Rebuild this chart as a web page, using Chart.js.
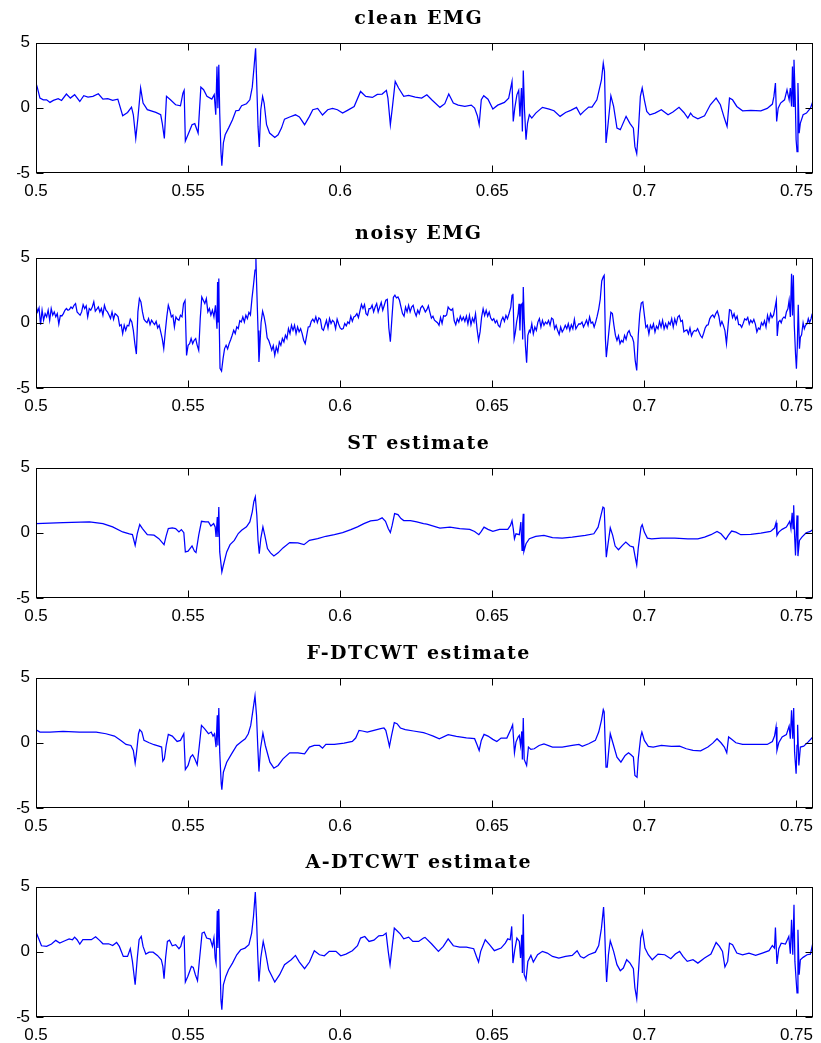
<!DOCTYPE html>
<html>
<head>
<meta charset="utf-8">
<script src="https://cdn.jsdelivr.net/npm/chart.js@4.4.1/dist/chart.umd.min.js"></script>
<style>
  html, body { margin: 0; padding: 0; background: #fff; overflow: hidden; }
  .panel { position: absolute; left: 0; width: 821px; height: 200px; }
</style>
</head>
<body>
<div class="panel" style="top:0px"><canvas id="c0"></canvas></div>
<div class="panel" style="top:215px"><canvas id="c1"></canvas></div>
<div class="panel" style="top:425px"><canvas id="c2"></canvas></div>
<div class="panel" style="top:635px"><canvas id="c3"></canvas></div>
<div class="panel" style="top:844px"><canvas id="c4"></canvas></div>
<script>
// axis ticks shared by every panel
const xTicks = [0.5, 0.55, 0.6, 0.65, 0.7, 0.75];
const yTicks = [-5, 0, 5];
const xMin = 0.5, xMax = 0.7555;

const titles = ["clean EMG", "noisy EMG", "ST estimate", "F-DTCWT estimate", "A-DTCWT estimate"];

// [time (s), amplitude] samples
const cleanEMG = [
  [0.5000,1.89],[0.5004,1.58],[0.5013,0.74],[0.5024,0.61],[0.5035,0.61],[0.5046,0.41],[0.5057,0.56],[0.5073,0.69],[0.5084,0.56],[0.5100,1.05],
  [0.5113,0.74],[0.5127,1.00],[0.5144,0.48],[0.5157,0.92],[0.5171,0.82],[0.5187,0.87],[0.5205,1.07],[0.5220,0.66],[0.5236,0.69],[0.5252,0.56],
  [0.5269,0.66],[0.5285,-0.61],[0.5301,-0.36],[0.5314,0.05],[0.5320,-0.54],[0.5328,-2.35],[0.5335,-0.79],[0.5344,1.51],[0.5352,0.36],[0.5366,-0.15],
  [0.5394,-0.36],[0.5410,-0.54],[0.5415,-1.17],[0.5422,-2.35],[0.5429,0.87],[0.5442,0.61],[0.5459,0.23],[0.5475,0.15],[0.5483,1.12],[0.5487,1.33],
  [0.5491,-2.55],[0.5502,-1.94],[0.5513,-1.30],[0.5522,-1.22],[0.5533,-1.94],[0.5542,1.58],[0.5551,1.38],[0.5562,0.87],[0.5578,0.66],[0.5586,1.00],
  [0.5591,-0.54],[0.5595,3.16],[0.5598,-0.03],[0.5601,3.29],[0.5604,-0.41],[0.5608,-3.37],[0.5611,-4.44],[0.5616,-2.70],[0.5622,-2.07],[0.5633,-1.56],
  [0.5646,-0.92],[0.5657,-0.23],[0.5667,-0.20],[0.5676,0.15],[0.5692,0.31],[0.5703,0.61],[0.5711,1.58],[0.5717,3.16],[0.5722,4.56],[0.5726,1.63],
  [0.5730,-1.43],[0.5734,-3.01],[0.5739,-0.15],[0.5745,0.87],[0.5750,0.36],[0.5758,-1.30],[0.5768,-1.94],[0.5785,-2.27],[0.5796,-2.07],[0.5807,-1.56],
  [0.5817,-0.87],[0.5834,-0.71],[0.5853,-0.54],[0.5866,-0.71],[0.5883,-1.30],[0.5899,-0.66],[0.5910,-0.15],[0.5926,-0.05],[0.5942,-0.56],[0.5959,-0.15],
  [0.5975,-0.05],[0.5991,-0.15],[0.6008,-0.41],[0.6024,-0.20],[0.6046,0.10],[0.6067,1.25],[0.6084,0.87],[0.6106,0.79],[0.6122,1.02],[0.6138,1.05],
  [0.6152,1.33],[0.6157,0.74],[0.6165,-1.30],[0.6172,0.10],[0.6181,2.02],[0.6192,1.51],[0.6209,0.87],[0.6225,0.94],[0.6247,0.82],[0.6268,0.74],
  [0.6285,1.00],[0.6301,0.61],[0.6328,0.03],[0.6344,0.31],[0.6357,1.05],[0.6372,0.36],[0.6388,0.20],[0.6410,0.10],[0.6431,0.20],[0.6442,-0.03],
  [0.6451,-0.61],[0.6457,-1.30],[0.6464,0.61],[0.6472,0.92],[0.6486,0.66],[0.6502,-0.10],[0.6518,0.20],[0.6540,0.41],[0.6554,0.74],[0.6565,2.02],
  [0.6569,-1.05],[0.6574,-0.03],[0.6581,0.99],[0.6587,1.33],[0.6591,-0.66],[0.6596,1.51],[0.6599,-1.81],[0.6602,2.86],[0.6606,-0.15],[0.6611,-2.45],
  [0.6616,-1.17],[0.6622,-0.54],[0.6630,-0.79],[0.6643,-0.41],[0.6665,0.03],[0.6687,-0.10],[0.6703,-0.23],[0.6723,-0.66],[0.6741,-0.36],[0.6758,-0.20],
  [0.6777,0.03],[0.6790,-0.54],[0.6801,-0.28],[0.6817,0.05],[0.6828,0.05],[0.6844,0.61],[0.6859,2.14],[0.6865,3.42],[0.6869,2.78],[0.6874,-2.70],
  [0.6880,-1.43],[0.6890,0.92],[0.6899,0.10],[0.6910,-1.56],[0.6921,-1.68],[0.6940,-0.66],[0.6953,-1.22],[0.6964,-1.56],[0.6969,-2.98],[0.6975,-3.52],
  [0.6980,-1.94],[0.6987,0.87],[0.6993,1.51],[0.7000,0.61],[0.7008,-0.28],[0.7018,-0.54],[0.7035,-0.41],[0.7056,-0.15],[0.7078,-0.54],[0.7094,-0.33],
  [0.7114,0.03],[0.7130,-0.36],[0.7143,-0.79],[0.7152,-0.41],[0.7160,-0.66],[0.7176,-0.84],[0.7198,-0.61],[0.7217,0.23],[0.7236,0.74],[0.7250,0.23],
  [0.7263,-0.79],[0.7272,-1.43],[0.7280,0.74],[0.7290,0.61],[0.7304,0.10],[0.7323,-0.23],[0.7350,-0.20],[0.7383,-0.23],[0.7404,-0.05],[0.7421,0.28],
  [0.7426,0.87],[0.7431,1.89],[0.7435,-1.05],[0.7440,-0.03],[0.7448,0.36],[0.7461,0.61],[0.7469,1.38],[0.7476,0.61],[0.7480,1.51],[0.7484,0.10],
  [0.7487,3.16],[0.7490,0.10],[0.7492,3.67],[0.7496,0.87],[0.7499,-2.45],[0.7502,-3.37],[0.7505,1.89],[0.7509,-1.94],[0.7513,-1.17],[0.7522,-0.54],
  [0.7533,-0.41],[0.7546,-0.03],[0.7554,0.48]
];

const noisyEMG = [
  [0.5000,1.34],[0.5005,0.83],[0.5010,1.14],[0.5015,-0.14],[0.5020,0.96],[0.5025,0.19],[0.5030,0.70],[0.5035,0.45],[0.5040,0.96],[0.5045,0.19],
  [0.5050,1.09],[0.5055,0.58],[0.5060,0.83],[0.5065,0.45],[0.5070,0.70],[0.5075,-0.10],[0.5080,0.55],[0.5085,0.52],[0.5090,0.70],[0.5095,0.96],
  [0.5100,1.09],[0.5105,0.96],[0.5110,1.02],[0.5115,1.21],[0.5120,1.09],[0.5125,1.34],[0.5130,1.47],[0.5135,0.83],[0.5140,0.70],[0.5145,0.58],
  [0.5150,0.83],[0.5155,1.39],[0.5160,1.09],[0.5165,1.29],[0.5170,0.45],[0.5175,1.09],[0.5180,0.96],[0.5185,1.21],[0.5190,1.60],[0.5195,0.89],
  [0.5200,1.04],[0.5205,1.21],[0.5210,0.83],[0.5215,1.09],[0.5220,0.58],[0.5225,1.34],[0.5230,0.96],[0.5235,0.83],[0.5240,0.60],[0.5245,0.32],
  [0.5250,0.83],[0.5255,0.27],[0.5260,0.70],[0.5265,0.60],[0.5270,0.45],[0.5275,-0.24],[0.5280,-0.14],[0.5285,-0.83],[0.5290,-0.19],[0.5295,-0.58],
  [0.5300,-0.19],[0.5305,-0.24],[0.5310,0.27],[0.5315,0.06],[0.5320,-0.58],[0.5325,-1.60],[0.5330,-2.40],[0.5335,0.83],[0.5340,1.85],[0.5345,1.60],
  [0.5350,0.83],[0.5355,0.27],[0.5360,0.11],[0.5365,0.01],[0.5370,0.32],[0.5375,-0.14],[0.5380,0.19],[0.5385,0.01],[0.5390,-0.14],[0.5395,0.11],
  [0.5400,-0.40],[0.5405,-0.19],[0.5410,-0.70],[0.5415,-1.21],[0.5420,-1.98],[0.5425,-0.70],[0.5430,0.45],[0.5435,1.34],[0.5440,0.96],[0.5445,0.45],
  [0.5450,0.58],[0.5455,-0.32],[0.5460,0.45],[0.5465,0.27],[0.5470,0.19],[0.5475,0.58],[0.5480,0.45],[0.5485,1.47],[0.5490,1.70],[0.5495,-2.50],
  [0.5500,-1.73],[0.5505,-1.60],[0.5510,-1.21],[0.5515,-1.60],[0.5520,-1.34],[0.5525,-1.21],[0.5530,-1.73],[0.5535,-2.11],[0.5540,0.32],[0.5545,1.98],
  [0.5550,1.72],[0.5555,1.47],[0.5560,1.85],[0.5565,0.83],[0.5570,1.09],[0.5575,0.58],[0.5580,0.96],[0.5585,0.45],[0.5590,1.34],[0.5595,-0.45],
  [0.5597,3.13],[0.5599,0.06],[0.5601,3.39],[0.5603,-0.80],[0.5605,-3.50],[0.5610,-3.70],[0.5615,-2.75],[0.5620,-1.98],[0.5625,-1.73],[0.5630,-2.00],
  [0.5635,-1.60],[0.5640,-1.30],[0.5645,-0.96],[0.5650,-0.58],[0.5655,-0.83],[0.5660,-0.32],[0.5665,-0.45],[0.5670,0.16],[0.5675,0.06],[0.5680,0.45],
  [0.5685,0.06],[0.5690,0.58],[0.5695,0.32],
  [0.5700,0.80],[0.5705,0.60],[0.5710,1.85],[0.5715,2.88],[0.5720,4.03],[0.5723,4.95],[0.5725,3.20],[0.5730,-0.60],[0.5733,-3.00],[0.5735,-2.20],
  [0.5740,0.00],[0.5745,0.89],[0.5750,0.45],[0.5755,-0.19],[0.5760,-1.15],[0.5765,-1.35],[0.5770,-1.70],[0.5775,-2.10],[0.5780,-1.75],[0.5785,-2.49],
  [0.5790,-1.85],[0.5795,-2.24],
  [0.5800,-1.47],[0.5805,-1.73],[0.5810,-1.21],[0.5815,-1.47],[0.5820,-0.96],[0.5825,-1.21],[0.5830,-0.45],[0.5835,-0.83],[0.5840,-0.19],[0.5845,-0.58],
  [0.5850,-0.19],[0.5855,-0.83],[0.5860,-0.32],[0.5865,-0.70],[0.5870,-0.45],[0.5875,-0.83],[0.5880,-1.34],[0.5885,-1.60],[0.5890,-0.96],[0.5895,-0.32],
  [0.5900,-0.30],[0.5905,0.11],[0.5910,0.27],[0.5915,0.06],[0.5920,0.45],[0.5925,0.01],[0.5930,0.37],[0.5935,0.27],[0.5940,-0.45],[0.5945,-0.58],
  [0.5950,-0.19],[0.5955,0.19],[0.5960,-0.40],[0.5965,0.32],[0.5970,-0.06],[0.5975,0.19],[0.5980,0.06],[0.5985,-0.45],[0.5990,0.27],[0.5995,-0.10],
  [0.6000,-0.40],[0.6005,-0.50],[0.6010,-0.45],[0.6015,-0.06],[0.6020,-0.24],[0.6025,0.06],[0.6030,-0.06],[0.6035,0.50],[0.6040,0.11],[0.6045,0.45],
  [0.6050,0.52],[0.6055,0.70],[0.6060,0.40],[0.6065,0.90],[0.6070,1.40],[0.6075,1.09],[0.6080,1.39],[0.6085,0.70],[0.6090,0.58],[0.6095,1.09],
  [0.6100,1.09],[0.6105,1.34],[0.6110,0.83],[0.6115,1.21],[0.6120,1.47],[0.6125,0.83],[0.6130,1.21],[0.6135,1.55],[0.6140,0.96],[0.6145,1.34],
  [0.6150,1.73],[0.6155,1.80],[0.6160,-0.40],[0.6165,-1.45],[0.6170,0.30],[0.6175,1.95],[0.6180,2.11],[0.6185,1.90],[0.6190,1.98],[0.6195,1.72],
  [0.6200,1.20],[0.6205,0.70],[0.6210,0.50],[0.6215,1.20],[0.6220,0.83],[0.6225,1.34],[0.6230,0.83],[0.6235,1.20],[0.6240,1.34],[0.6245,0.83],
  [0.6250,0.52],[0.6255,0.96],[0.6260,0.70],[0.6265,1.15],[0.6270,1.30],[0.6275,1.10],[0.6280,0.83],
  [0.6285,1.00],[0.6290,1.30],[0.6295,0.80],[0.6300,0.36],[0.6305,0.50],[0.6310,0.20],[0.6315,0.10],[0.6320,0.00],[0.6325,-0.20],[0.6330,0.40],
  [0.6335,-0.05],[0.6340,0.55],[0.6345,0.50],[0.6350,0.60],[0.6355,1.20],[0.6360,1.05],[0.6365,0.95],[0.6370,1.08],[0.6375,0.15],[0.6380,-0.15],
  [0.6385,0.30],[0.6390,0.05],[0.6395,0.50],
  [0.6400,0.18],[0.6405,0.43],[0.6410,0.10],[0.6415,0.51],[0.6420,-0.08],[0.6425,0.56],[0.6430,-0.15],[0.6435,0.36],[0.6440,0.05],[0.6445,0.69],
  [0.6450,-0.46],[0.6455,-1.35],[0.6460,-0.70],[0.6465,0.43],[0.6470,1.07],[0.6475,0.56],[0.6480,0.95],[0.6485,0.51],[0.6490,0.82],[0.6495,0.36],
  [0.6500,0.18],[0.6505,0.31],[0.6510,0.00],[0.6515,0.18],[0.6520,-0.20],[0.6525,-0.33],[0.6530,0.18],[0.6535,0.43],[0.6540,0.10],[0.6545,0.56],
  [0.6550,0.31],[0.6555,0.69],
  [0.6561,1.20],[0.6565,2.10],[0.6568,2.23],[0.6572,-1.23],[0.6576,-0.72],[0.6580,0.05],[0.6585,0.69],[0.6588,1.46],[0.6591,-0.59],[0.6594,1.33],
  [0.6598,1.46],[0.6600,-1.28],[0.6602,2.74],[0.6605,0.31],[0.6609,-1.74],[0.6613,-3.07],[0.6617,-0.97],[0.6622,-0.59],
  [0.6625,-0.72],[0.6630,-0.08],[0.6635,-0.85],[0.6640,-0.33],[0.6645,-0.59],[0.6650,0.05],[0.6655,0.31],[0.6660,-0.33],[0.6665,0.18],[0.6670,-0.20],
  [0.6675,0.05],[0.6680,-0.08],[0.6685,0.18],[0.6690,-0.20],[0.6695,0.36],
  [0.6700,0.26],[0.6705,-0.46],[0.6710,-0.20],[0.6715,-0.60],[0.6720,-0.90],[0.6725,-0.33],[0.6730,-0.70],[0.6735,-0.50],[0.6740,-0.20],[0.6745,-0.46],
  [0.6750,-0.08],[0.6755,-0.59],[0.6760,-0.15],[0.6765,-0.46],[0.6770,0.26],[0.6775,-0.46],[0.6780,-0.25],[0.6785,-0.08],[0.6790,-0.10],[0.6795,0.05],
  [0.6800,-0.33],[0.6805,-0.08],[0.6810,0.20],[0.6815,-0.20],[0.6820,0.44],[0.6825,-0.03],[0.6830,0.05],[0.6835,-0.33],[0.6840,0.05],[0.6845,0.50],
  [0.6850,1.05],[0.6855,1.80],[0.6860,3.20],[0.6865,3.52],[0.6868,3.63],[0.6872,-1.23],[0.6875,-2.63],[0.6880,-1.50],[0.6885,-0.30],[0.6890,0.80],
  [0.6895,0.70],
  [0.6900,-0.20],[0.6905,-0.97],[0.6910,-1.35],[0.6915,-1.00],[0.6920,-1.60],[0.6925,-1.35],[0.6930,-1.48],[0.6935,-0.97],[0.6940,-1.28],[0.6945,-0.77],
  [0.6950,-0.60],[0.6955,-0.97],[0.6960,-1.10],[0.6965,-1.48],[0.6970,-2.90],[0.6975,-3.66],[0.6980,-1.00],[0.6985,0.69],[0.6990,1.50],[0.6995,1.60],
  [0.7000,0.60],[0.7005,-0.35],[0.7010,-0.20],[0.7015,-0.85],[0.7020,-0.20],[0.7025,-0.46],[0.7030,-0.08],[0.7035,-0.72],[0.7040,-0.26],[0.7045,-0.46],
  [0.7050,0.10],[0.7055,-0.33],[0.7060,0.18],[0.7065,-0.46],[0.7070,-0.08],[0.7075,-0.41],[0.7080,0.05],[0.7085,-0.15],[0.7090,0.31],[0.7095,-0.33],
  [0.7100,0.30],[0.7105,-0.10],[0.7110,0.44],[0.7115,0.56],[0.7120,0.10],[0.7125,0.18],[0.7130,-0.70],[0.7135,-0.60],[0.7140,-0.55],[0.7145,-0.85],
  [0.7150,-0.40],[0.7155,-1.00],[0.7160,-0.72],[0.7165,-0.59],[0.7170,-0.65],[0.7175,-0.45],[0.7180,-0.72],[0.7185,-1.00],[0.7190,-1.15],[0.7195,-0.80],
  [0.7200,-0.40],[0.7205,-0.20],[0.7210,-0.15],[0.7215,0.30],[0.7220,0.50],[0.7225,0.60],[0.7230,0.40],[0.7235,0.70],[0.7240,0.90],[0.7245,0.50],
  [0.7250,-0.20],[0.7255,0.10],[0.7260,-0.20],[0.7265,-0.60],[0.7270,-1.60],[0.7275,-0.30],[0.7280,1.00],[0.7285,0.95],[0.7290,0.40],[0.7295,0.69],
  [0.7300,0.26],[0.7305,0.50],[0.7310,-0.15],[0.7315,-0.15],[0.7320,-0.35],[0.7325,-0.05],[0.7330,0.30],[0.7335,0.20],[0.7340,0.40],[0.7345,-0.10],
  [0.7350,0.20],[0.7355,0.00],[0.7360,0.25],[0.7365,-0.10],[0.7370,-0.70],[0.7375,-0.40],[0.7380,-0.50],[0.7385,0.00],[0.7390,-0.20],[0.7395,0.15],
  [0.7400,-0.33],[0.7405,0.56],[0.7410,0.10],[0.7415,0.69],[0.7420,0.40],[0.7425,0.60],
  [0.7430,1.20],[0.7434,1.72],[0.7437,-1.02],[0.7441,0.05],[0.7446,0.18],[0.7450,0.00],[0.7454,0.31],[0.7459,0.44],[0.7463,0.36],[0.7467,0.82],
  [0.7472,1.07],[0.7476,1.72],[0.7480,0.44],[0.7484,3.76],[0.7487,0.56],[0.7490,3.63],[0.7493,-0.20],[0.7497,-2.38],[0.7500,-3.53],[0.7503,-1.74],
  [0.7506,1.38],[0.7510,-1.99],[0.7513,-1.10],[0.7517,-0.92],[0.7522,0.00],[0.7526,-0.46],[0.7530,-0.20],[0.7535,-0.08],[0.7539,0.31],[0.7543,0.00],
  [0.7548,0.31],[0.7552,0.69]
];

const stEstimate = [
  [0.5000,0.70],[0.5089,0.78],[0.5176,0.83],[0.5220,0.70],[0.5252,0.45],[0.5285,0.06],[0.5307,-0.09],[0.5317,-0.14],[0.5326,-0.96],[0.5333,-0.06],
  [0.5341,0.63],[0.5350,0.32],[0.5366,-0.14],[0.5388,-0.19],[0.5404,-0.45],[0.5421,-0.91],[0.5428,-0.24],[0.5435,0.32],[0.5448,0.37],[0.5459,0.32],
  [0.5470,0.06],[0.5478,0.24],[0.5486,0.01],[0.5491,-1.47],[0.5500,-1.41],[0.5513,-1.01],[0.5521,-1.41],[0.5526,-1.52],[0.5535,-0.19],[0.5544,0.88],
  [0.5557,0.83],[0.5567,0.83],[0.5575,0.52],[0.5584,0.70],[0.5589,0.45],[0.5592,-0.32],[0.5596,1.21],[0.5598,-0.32],[0.5601,1.98],[0.5604,-1.47],
  [0.5611,-3.00],[0.5616,-2.49],[0.5627,-1.47],[0.5638,-0.91],[0.5652,-0.58],[0.5665,-0.06],[0.5676,0.19],[0.5692,0.45],[0.5703,0.83],[0.5711,1.60],
  [0.5716,2.37],[0.5721,2.75],[0.5726,1.34],[0.5730,-0.58],[0.5734,-1.60],[0.5739,-0.45],[0.5746,0.45],[0.5752,-0.19],[0.5761,-1.21],[0.5771,-1.54],
  [0.5782,-1.78],[0.5796,-1.54],[0.5812,-1.16],[0.5834,-0.75],[0.5861,-0.78],[0.5881,-0.91],[0.5899,-0.58],[0.5926,-0.45],[0.5953,-0.27],[0.5981,-0.14],
  [0.6008,0.01],[0.6035,0.24],[0.6057,0.45],[0.6078,0.70],[0.6100,0.91],[0.6122,0.96],[0.6138,1.14],[0.6149,0.88],[0.6158,0.32],[0.6165,0.01],
  [0.6171,0.58],[0.6179,1.47],[0.6190,1.39],[0.6200,1.09],[0.6209,0.93],[0.6231,0.93],[0.6252,0.83],[0.6274,0.70],[0.6285,0.66],[0.6328,0.36],
  [0.6361,0.43],[0.6393,0.31],[0.6426,0.26],[0.6442,0.10],[0.6456,-0.15],[0.6464,0.10],[0.6473,0.43],[0.6486,0.26],[0.6502,0.10],[0.6524,0.26],
  [0.6551,0.26],[0.6560,0.56],[0.6565,0.92],[0.6569,0.31],[0.6573,-0.46],[0.6578,-0.08],[0.6589,-0.15],[0.6594,0.82],[0.6598,-1.36],[0.6600,0.69],
  [0.6602,1.46],[0.6604,-1.43],[0.6611,-0.84],[0.6622,-0.46],[0.6643,-0.28],[0.6670,-0.20],[0.6698,-0.38],[0.6730,-0.41],[0.6763,-0.33],[0.6806,-0.20],
  [0.6834,-0.08],[0.6848,0.43],[0.6856,1.20],[0.6864,1.97],[0.6868,1.89],[0.6872,-0.46],[0.6875,-1.87],[0.6880,-0.97],[0.6888,0.38],[0.6896,-0.20],
  [0.6904,-1.02],[0.6915,-1.30],[0.6928,-0.97],[0.6939,-0.72],[0.6953,-1.02],[0.6964,-1.10],[0.6971,-2.00],[0.6975,-2.46],[0.6980,-1.18],[0.6989,0.43],
  [0.6993,0.61],[0.7000,0.05],[0.7010,-0.41],[0.7024,-0.46],[0.7056,-0.41],[0.7100,-0.41],[0.7143,-0.46],[0.7176,-0.46],[0.7198,-0.33],[0.7219,-0.15],
  [0.7239,0.10],[0.7252,-0.08],[0.7268,-0.51],[0.7276,-0.20],[0.7287,0.13],[0.7301,0.05],[0.7317,-0.15],[0.7350,-0.13],[0.7383,-0.03],[0.7415,0.10],
  [0.7428,0.36],[0.7433,0.77],[0.7436,-0.20],[0.7442,0.05],[0.7453,0.26],[0.7467,0.43],[0.7478,0.87],[0.7482,0.31],[0.7486,1.53],[0.7489,0.31],
  [0.7491,2.10],[0.7494,-0.20],[0.7497,-1.74],[0.7500,0.31],[0.7502,1.33],[0.7505,-1.79],[0.7510,-0.59],[0.7518,-0.33],[0.7532,0.00],[0.7546,0.10],
  [0.7554,0.26]
];

const fdtcwtEstimate = [
  [0.5000,1.00],[0.5013,0.82],[0.5046,0.82],[0.5089,0.87],[0.5143,0.82],[0.5198,0.82],[0.5230,0.69],[0.5258,0.51],[0.5279,0.18],[0.5296,-0.13],
  [0.5312,-0.21],[0.5320,-0.59],[0.5326,-1.56],[0.5330,-0.85],[0.5337,0.69],[0.5341,1.00],[0.5348,0.82],[0.5355,0.18],[0.5372,0.00],[0.5388,-0.15],
  [0.5404,-0.26],[0.5413,-0.33],[0.5417,-1.41],[0.5422,-1.23],[0.5428,-0.21],[0.5435,0.64],[0.5448,0.51],[0.5464,0.10],[0.5475,0.18],[0.5486,0.69],
  [0.5491,-2.05],[0.5500,-1.74],[0.5508,-1.10],[0.5515,-0.92],[0.5522,-1.23],[0.5530,-1.69],[0.5537,-0.21],[0.5544,1.33],[0.5554,1.08],[0.5567,0.69],
  [0.5576,0.82],[0.5582,0.51],[0.5587,0.69],[0.5592,-0.33],[0.5596,2.10],[0.5598,-0.21],[0.5601,2.67],[0.5604,-0.72],[0.5609,-3.15],[0.5611,-3.59],
  [0.5616,-2.26],[0.5627,-1.49],[0.5643,-0.85],[0.5660,-0.21],[0.5676,0.10],[0.5688,0.31],[0.5698,0.69],[0.5706,1.33],[0.5714,2.62],[0.5720,3.59],
  [0.5725,2.10],[0.5729,-0.21],[0.5733,-2.21],[0.5738,-0.46],[0.5746,0.74],[0.5754,-0.21],[0.5769,-1.49],[0.5782,-1.95],[0.5796,-1.74],[0.5812,-1.23],
  [0.5834,-0.77],[0.5861,-0.77],[0.5883,-0.85],[0.5899,-0.33],[0.5915,-0.21],[0.5932,-0.21],[0.5942,-0.41],[0.5953,-0.13],[0.5981,-0.13],[0.6013,-0.03],
  [0.6040,0.10],[0.6051,0.36],[0.6062,0.95],[0.6073,0.90],[0.6089,0.82],[0.6111,0.95],[0.6133,1.08],[0.6144,1.13],[0.6150,0.95],[0.6157,0.26],
  [0.6162,-0.28],[0.6169,0.56],[0.6178,1.54],[0.6187,1.46],[0.6198,1.13],[0.6214,1.00],[0.6241,0.90],[0.6274,0.77],[0.6285,0.69],[0.6306,0.51],
  [0.6326,0.31],[0.6355,0.62],[0.6382,0.49],[0.6415,0.38],[0.6442,0.31],[0.6450,-0.15],[0.6457,-0.59],[0.6464,0.18],[0.6473,0.64],[0.6486,0.51],
  [0.6502,0.26],[0.6515,0.10],[0.6529,0.36],[0.6548,0.36],[0.6562,1.08],[0.6567,1.38],[0.6573,-0.77],[0.6578,0.05],[0.6585,0.44],[0.6589,0.56],
  [0.6593,-0.21],[0.6597,0.87],[0.6599,-1.28],[0.6602,1.90],[0.6605,-1.28],[0.6613,-1.74],[0.6619,-0.33],[0.6627,-0.51],[0.6638,-0.46],[0.6654,-0.21],
  [0.6670,-0.08],[0.6698,-0.33],[0.6730,-0.33],[0.6763,-0.21],[0.6785,-0.13],[0.6796,-0.28],[0.6817,-0.08],[0.6839,0.18],[0.6850,0.82],[0.6859,1.72],
  [0.6865,2.54],[0.6868,2.36],[0.6871,0.05],[0.6874,-1.87],[0.6878,-1.87],[0.6888,0.69],[0.6899,-0.21],[0.6910,-1.10],[0.6923,-1.49],[0.6937,-0.97],
  [0.6948,-0.77],[0.6956,-0.92],[0.6964,-1.10],[0.6969,-2.51],[0.6976,-2.64],[0.6980,-1.23],[0.6988,0.44],[0.6992,0.82],[0.7000,0.18],[0.7013,-0.28],
  [0.7029,-0.33],[0.7056,-0.21],[0.7089,-0.28],[0.7116,-0.26],[0.7138,-0.46],[0.7160,-0.59],[0.7185,-0.62],[0.7209,-0.33],[0.7225,-0.03],[0.7239,0.31],
  [0.7252,0.00],[0.7263,-0.33],[0.7271,-0.77],[0.7277,0.44],[0.7287,0.26],[0.7301,0.00],[0.7323,-0.13],[0.7361,-0.13],[0.7404,-0.13],[0.7421,0.10],
  [0.7428,0.51],[0.7433,1.21],[0.7436,-0.59],[0.7442,0.00],[0.7453,0.44],[0.7467,0.62],[0.7476,1.28],[0.7480,0.31],[0.7484,2.49],[0.7488,0.31],
  [0.7491,2.67],[0.7494,-0.72],[0.7499,-2.38],[0.7502,-0.21],[0.7504,1.38],[0.7508,-1.74],[0.7513,-0.33],[0.7524,-0.26],[0.7538,0.05],[0.7554,0.44]
];

const adtcwtEstimate = [
  [0.5000,1.51],[0.5008,1.05],[0.5018,0.46],[0.5035,0.41],[0.5051,0.59],[0.5065,0.87],[0.5078,0.66],[0.5095,0.84],[0.5109,0.99],[0.5120,0.92],
  [0.5127,1.12],[0.5135,0.92],[0.5144,0.59],[0.5154,0.92],[0.5171,0.92],[0.5182,0.92],[0.5196,1.15],[0.5209,0.87],[0.5220,0.61],[0.5239,0.61],
  [0.5252,0.48],[0.5265,0.71],[0.5274,0.41],[0.5287,-0.36],[0.5301,-0.36],[0.5310,0.23],[0.5317,-0.74],[0.5326,-2.53],[0.5333,-0.48],[0.5339,0.92],
  [0.5346,1.17],[0.5352,0.41],[0.5361,-0.18],[0.5372,-0.03],[0.5385,-0.03],[0.5399,-0.28],[0.5412,-0.61],[0.5417,-1.12],[0.5421,-2.07],[0.5426,-0.48],
  [0.5432,0.79],[0.5439,0.89],[0.5448,0.46],[0.5459,0.54],[0.5470,0.23],[0.5476,0.41],[0.5483,1.05],[0.5487,1.17],[0.5491,-2.32],[0.5499,-1.89],
  [0.5505,-1.51],[0.5511,-1.12],[0.5517,-1.20],[0.5524,-1.76],[0.5531,-2.22],[0.5538,-0.48],[0.5546,1.43],[0.5553,1.51],[0.5561,1.05],[0.5573,0.97],
  [0.5580,0.41],[0.5585,1.05],[0.5589,-0.48],[0.5592,-0.87],[0.5596,3.14],[0.5598,0.28],[0.5601,3.27],[0.5604,0.03],[0.5608,-3.67],[0.5611,-4.44],
  [0.5616,-2.53],[0.5624,-1.89],[0.5633,-1.38],[0.5646,-0.87],[0.5660,-0.23],[0.5673,0.15],[0.5687,0.28],[0.5700,0.54],[0.5709,1.43],[0.5715,2.70],
  [0.5721,4.57],[0.5725,2.58],[0.5729,-0.23],[0.5733,-2.27],[0.5739,-0.48],[0.5747,0.79],[0.5754,0.03],[0.5765,-1.38],[0.5785,-2.32],[0.5801,-1.76],
  [0.5817,-0.99],[0.5839,-0.61],[0.5853,-0.28],[0.5866,-0.79],[0.5883,-1.30],[0.5899,-0.79],[0.5915,0.08],[0.5932,-0.23],[0.5948,-0.31],[0.5964,0.03],
  [0.5986,0.03],[0.6002,-0.31],[0.6019,-0.18],[0.6040,0.08],[0.6057,0.46],[0.6067,1.05],[0.6081,1.17],[0.6095,0.79],[0.6111,0.89],[0.6127,1.22],
  [0.6141,1.25],[0.6151,1.43],[0.6158,0.03],[0.6164,-0.99],[0.6171,0.41],[0.6178,1.81],[0.6187,1.61],[0.6198,1.35],[0.6209,0.99],[0.6225,1.12],
  [0.6239,0.79],[0.6258,0.79],[0.6274,1.05],[0.6279,1.10],[0.6301,0.59],[0.6323,0.03],[0.6339,0.41],[0.6355,0.99],[0.6372,0.46],[0.6393,0.36],
  [0.6415,0.36],[0.6439,0.23],[0.6448,-0.36],[0.6455,-0.79],[0.6462,0.03],[0.6477,0.92],[0.6491,0.54],[0.6507,0.08],[0.6529,0.28],[0.6543,0.66],
  [0.6551,0.99],[0.6559,0.92],[0.6564,1.94],[0.6568,-0.87],[0.6574,0.15],[0.6581,1.05],[0.6589,0.79],[0.6593,-0.48],[0.6597,1.30],[0.6599,-1.63],
  [0.6602,2.88],[0.6605,-1.76],[0.6611,-2.14],[0.6617,-0.74],[0.6627,-0.28],[0.6635,-0.79],[0.6649,-0.23],[0.6665,0.03],[0.6681,-0.10],[0.6698,-0.36],
  [0.6719,-0.48],[0.6741,-0.36],[0.6763,-0.28],[0.6779,0.08],[0.6790,-0.36],[0.6801,-0.48],[0.6817,-0.23],[0.6839,-0.03],[0.6850,0.48],[0.6859,1.81],
  [0.6866,3.42],[0.6869,2.07],[0.6873,-0.74],[0.6876,-2.32],[0.6882,-0.23],[0.6888,0.84],[0.6899,0.03],[0.6910,-0.99],[0.6921,-1.45],[0.6931,-1.25],
  [0.6942,-0.61],[0.6953,-0.87],[0.6964,-1.30],[0.6969,-2.78],[0.6975,-3.60],[0.6980,-1.76],[0.6988,1.05],[0.6994,1.56],[0.7002,0.28],[0.7013,-0.23],
  [0.7026,-0.61],[0.7045,-0.18],[0.7067,-0.23],[0.7087,-0.54],[0.7102,-0.18],[0.7116,0.03],[0.7127,-0.36],[0.7141,-0.74],[0.7160,-0.61],[0.7176,-0.87],
  [0.7198,-0.48],[0.7219,-0.18],[0.7236,0.71],[0.7247,0.41],[0.7257,0.03],[0.7265,-1.17],[0.7274,-0.74],[0.7280,0.66],[0.7290,0.54],[0.7304,-0.10],
  [0.7323,-0.23],[0.7344,-0.10],[0.7366,-0.28],[0.7388,-0.10],[0.7410,0.08],[0.7421,0.48],[0.7428,0.28],[0.7431,1.86],[0.7436,-0.94],[0.7442,0.23],
  [0.7450,0.66],[0.7464,0.59],[0.7475,1.17],[0.7480,-0.15],[0.7484,2.45],[0.7488,-0.23],[0.7492,3.60],[0.7495,-0.74],[0.7499,-2.14],[0.7502,-3.16],
  [0.7505,1.68],[0.7509,-1.76],[0.7513,-0.61],[0.7522,-0.43],[0.7535,-0.23],[0.7546,-0.18],[0.7554,0.66]
];

const series = [cleanEMG, noisyEMG, stEstimate, fdtcwtEstimate, adtcwtEstimate];

// MATLAB-style axes box with inward tick marks on all four sides, plus the panel title
const boxTicks = {
  id: 'boxTicks',
  afterDraw(chart, args, opts) {
    const { ctx, chartArea, scales } = chart;
    const l = Math.round(chartArea.left) + 0.5, r = Math.round(chartArea.right) - 0.5;
    const t = Math.round(chartArea.top) + 0.5, b = Math.round(chartArea.bottom) - 0.5;
    const len = 7;
    ctx.save();
    ctx.strokeStyle = '#000';
    ctx.lineWidth = 1;
    ctx.beginPath();
    xTicks.forEach(function (v) {
      const x = Math.round(scales.x.getPixelForValue(v)) + 0.5;
      ctx.moveTo(x, t); ctx.lineTo(x, t + len);
      ctx.moveTo(x, b); ctx.lineTo(x, b - len);
    });
    yTicks.forEach(function (v) {
      const y = Math.round(scales.y.getPixelForValue(v)) + 0.5;
      ctx.moveTo(l, y); ctx.lineTo(l + len, y);
      ctx.moveTo(r, y); ctx.lineTo(r - len, y);
    });
    ctx.stroke();
    ctx.strokeRect(l, t, r - l, b - t);

    // title (wide bold serif, like the LaTeX bold face of the original)
    ctx.font = 'bold 19px "DejaVu Serif"';
    ctx.fillStyle = '#000';
    ctx.textBaseline = 'alphabetic';
    ctx.textAlign = 'left';
    if ('letterSpacing' in ctx) ctx.letterSpacing = '1.5px';
    const w = ctx.measureText(opts.text).width;
    ctx.fillText(opts.text, 418 - w / 2 + 0.75, chartArea.top - 18.3);
    ctx.restore();
  }
};

const tickFont = { family: 'Liberation Sans', size: 17 };

series.forEach(function (samples, i) {
  const ctx = document.getElementById('c' + i).getContext('2d');
  new Chart(ctx, {
    type: 'line',
    data: {
      datasets: [{
        data: samples.map(function (p) { return { x: p[0], y: p[1] }; }),
        borderColor: '#0000ff',
        backgroundColor: 'transparent',
        borderWidth: 1.25,
        pointRadius: 0,
        tension: 0,
        fill: false
      }]
    },
    options: {
      responsive: true,
      maintainAspectRatio: false,
      animation: false,
      events: [],
      layout: { padding: { left: 17, right: 1.7, top: 42.5, bottom: 0 }, autoPadding: false },
      plugins: {
        legend: { display: false },
        tooltip: { enabled: false },
        title: { display: false },
        boxTicks: { text: titles[i] }
      },
      scales: {
        x: {
          type: 'linear',
          min: xMin,
          max: xMax,
          grid: { display: false, drawTicks: false },
          border: { display: false },
          afterBuildTicks: function (scale) { scale.ticks = xTicks.map(function (v) { return { value: v }; }); },
          afterFit: function (scale) { scale.height = 27; },
          ticks: {
            color: '#000',
            font: tickFont,
            padding: 8,
            maxRotation: 0,
            autoSkip: false,
            callback: function (v) { return String(+v.toFixed(2)); }
          }
        },
        y: {
          min: -5,
          max: 5,
          grid: { display: false, drawTicks: false },
          border: { display: false },
          afterBuildTicks: function (scale) { scale.ticks = yTicks.map(function (v) { return { value: v }; }); },
          afterFit: function (scale) { scale.width = 19; },
          ticks: {
            color: '#000',
            font: tickFont,
            padding: 6,
            callback: function (v) { return v < 0 ? '\u2013' + Math.abs(v) : String(v); }
          }
        }
      }
    },
    plugins: [boxTicks]
  });
});
</script>
</body>
</html>
